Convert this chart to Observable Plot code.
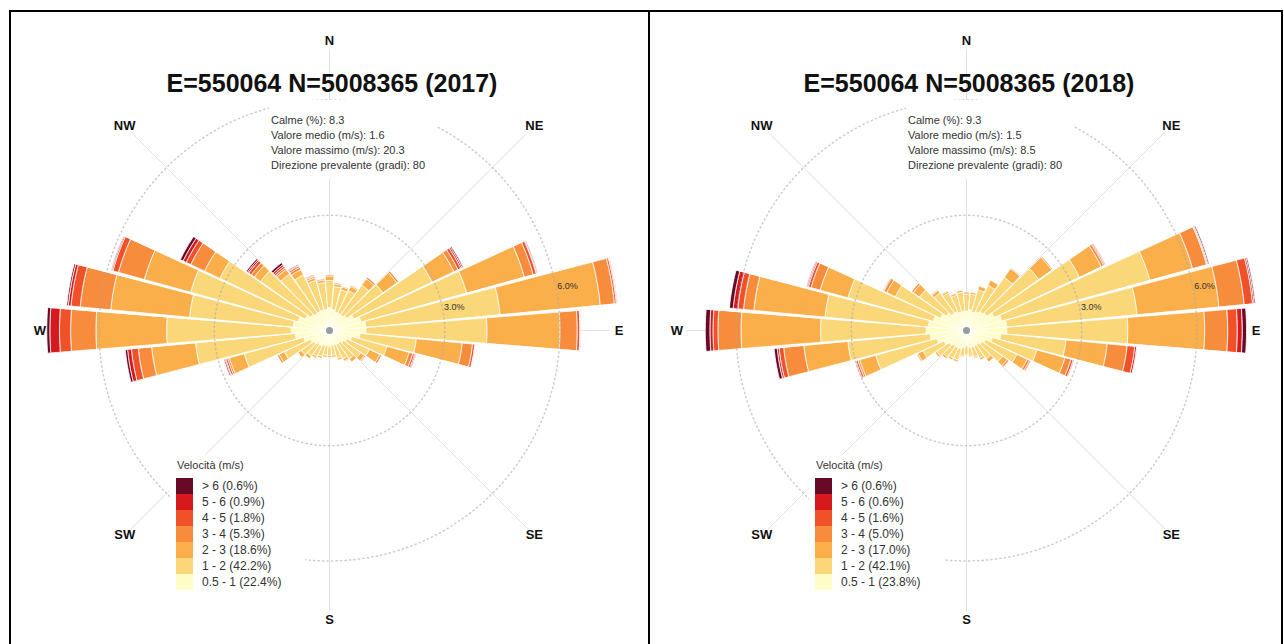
<!DOCTYPE html>
<html>
<head>
<meta charset="utf-8">
<script src="https://cdn.jsdelivr.net/npm/d3@7"></script>
<script src="https://cdn.jsdelivr.net/npm/@observablehq/plot@0.6"></script>
<style>
html,body{margin:0;padding:0;background:#fff;overflow:hidden;width:1284px;height:644px;}
body{font-family:"Liberation Sans",Arial,Helvetica,sans-serif;color:#222;position:relative;}
.bar{position:absolute;background:#000;z-index:5;}
.rose{position:absolute;}
.title{position:absolute;top:71px;width:440px;text-align:center;font-size:25px;line-height:25px;font-weight:bold;color:#111;white-space:nowrap;}
.stats{position:absolute;top:100px;padding:13px 12px 6px 2px;font-size:11px;line-height:15px;color:#333;white-space:pre;background:#fff;}
.legend{position:absolute;top:455px;width:135px;height:142px;color:#333;background:#fff;}
.legend .lt{position:absolute;left:7px;top:3px;font-size:11px;line-height:14px;white-space:nowrap;}
.legend .sw{position:absolute;left:6px;width:17px;height:16px;}
.legend .lb{position:absolute;left:32px;font-size:12px;line-height:16px;white-space:nowrap;}
</style>
</head>
<body>
<div class="bar" style="left:9px;top:10px;width:1274px;height:2px"></div>
<div class="bar" style="left:9px;top:10px;width:2px;height:640px"></div>
<div class="bar" style="left:648px;top:10px;width:2px;height:640px"></div>
<div class="bar" style="left:1281px;top:10px;width:2px;height:640px"></div>
<div id="root"></div>
<script>
// ---------------- data ----------------
const directions = [10,20,30,40,50,60,70,80,90,100,110,120,130,140,150,160,170,180,190,200,210,220,230,240,250,260,270,280,290,300,310,320,330,340,350,360];
const speedBins = ["0.5 - 1","1 - 2","2 - 3","3 - 4","4 - 5","5 - 6","> 6"];
const binColors = ["#FFFDC8","#FAD778","#FAAF4B","#F78C3C","#F05128","#D7191E","#660A26"];

// 2017 frequencies (%) per direction, one array per speed bin
const y2017_05_1 = [0.55,0.50,0.50,0.50,0.55,0.70,0.85,0.95,0.95,0.80,0.60,0.50,0.45,0.40,0.40,0.40,0.40,0.40,0.40,0.40,0.45,0.45,0.50,0.55,0.70,0.90,1.00,0.95,0.85,0.70,0.60,0.55,0.55,0.55,0.55,0.60];
const y2017_1_2  = [0.60,0.60,0.65,0.95,1.15,2.25,2.85,3.51,3.15,1.47,0.95,0.65,0.55,0.50,0.42,0.35,0.25,0.25,0.25,0.30,0.30,0.37,0.40,0.75,1.60,2.60,3.24,2.71,2.90,2.46,1.60,1.25,1.05,0.80,0.70,0.70];
const y2017_2_3  = [0.07,0.08,0.12,0.20,0.45,0.63,1.56,2.62,1.90,1.20,0.60,0.30,0.12,0.10,0.06,0.05,0.05,0.05,0.05,0.05,0.05,0.08,0.10,0.15,0.40,1.15,1.84,2.06,1.25,0.44,0.20,0.15,0.15,0.07,0.07,0.12];
const y2017_3_4  = [0.03,0.02,0.03,0.05,0.05,0.12,0.24,0.37,0.45,0.27,0.10,0.05,0.03,0,0.02,0,0,0,0,0,0,0,0,0.05,0.05,0.35,0.66,0.80,0.70,0.40,0.10,0.05,0.07,0.04,0.03,0.03];
const y2017_4_5  = [0,0,0,0,0,0.08,0.08,0.05,0.07,0.06,0.05,0,0,0,0,0,0,0,0,0,0,0,0,0,0.05,0.18,0.29,0.24,0.15,0.13,0.08,0.05,0.04,0.02,0,0];
const y2017_5_6  = [0,0,0,0,0,0.04,0.02,0.02,0.01,0.01,0.03,0,0,0,0,0,0,0,0,0,0,0,0,0,0.02,0.10,0.25,0.07,0.03,0.09,0.04,0.05,0.02,0.02,0,0];
const y2017_gt6  = [0,0,0,0,0,0.03,0.02,0.01,0.01,0,0.01,0,0,0,0,0,0,0,0,0,0,0,0,0,0.03,0.06,0.08,0.04,0.02,0.08,0.04,0.06,0.02,0,0,0];

// 2018
const y2018_05_1 = [0.55,0.50,0.55,0.60,0.65,0.80,0.95,1.05,1.05,0.90,0.70,0.55,0.50,0.45,0.45,0.45,0.45,0.40,0.45,0.50,0.50,0.50,0.55,0.65,0.80,0.95,1.05,1.00,0.90,0.75,0.65,0.55,0.55,0.50,0.50,0.50];
const y2018_1_2  = [0.40,0.60,0.75,1.10,1.65,2.45,4.00,3.41,3.15,1.70,1.20,0.90,0.65,0.45,0.35,0.27,0.23,0.23,0.23,0.30,0.30,0.35,0.40,0.60,1.65,2.15,2.75,2.70,2.30,1.30,0.85,0.65,0.53,0.45,0.50,0.45];
const y2018_2_3  = [0.05,0.10,0.15,0.28,0.42,0.63,1.15,2.14,2.00,1.08,0.76,0.30,0.15,0.10,0.05,0.03,0.02,0.02,0.02,0.05,0.05,0.05,0.05,0.15,0.43,1.15,2.07,1.86,0.75,0.25,0.20,0.08,0.05,0.05,0.05,0.05];
const y2018_3_4  = [0,0,0,0.02,0.03,0.07,0.38,0.66,0.60,0.52,0.16,0.07,0.05,0,0,0,0,0,0,0,0,0,0,0.03,0.05,0.53,0.60,0.27,0.25,0.08,0.05,0.02,0.02,0,0,0];
const y2018_4_5  = [0,0,0,0,0,0.03,0.02,0.22,0.25,0.20,0.06,0.03,0,0,0,0,0,0,0,0,0,0,0,0,0.05,0.12,0.13,0.15,0.07,0.02,0,0,0,0,0,0];
const y2018_5_6  = [0,0,0,0,0,0.02,0.02,0.04,0.13,0.05,0.02,0,0,0,0,0,0,0,0,0,0,0,0,0,0.02,0.05,0.08,0.12,0.03,0,0,0,0,0,0,0];
const y2018_gt6  = [0,0,0,0,0,0,0.03,0.03,0.11,0.01,0,0,0,0,0,0,0,0,0,0,0,0,0,0,0,0.08,0.12,0.10,0.02,0,0,0,0,0,0,0];

const legendPct2017 = [22.4,42.2,18.6,5.3,1.8,0.9,0.6];
const legendPct2018 = [23.8,42.1,17.0,5.0,1.6,0.6,0.6];

const titles = ["E=550064 N=5008365 (2017)","E=550064 N=5008365 (2018)"];
const statLabels = ["Calme (%)","Valore medio (m/s)","Valore massimo (m/s)","Direzione prevalente (gradi)"];
const stats2017 = ["8.3","1.6","20.3","80"];
const stats2018 = ["9.3","1.5","8.5","80"];

const compassNames = ["N","NE","E","SE","S","SW","W","NW"];
const compassDirs  = [0,45,90,135,180,225,270,315];
const ringValues = [3,6];
const legendTitle = "Velocità (m/s)";

// ---------------- drawing ----------------
const HALF = 4.6;          // half angular width of a sector bar (deg)
const RADIUS = 8.07;       // domain radius in % (fits the 620px square)
const LABEL_R = 7.54;
const SPOKE_R = 7.3;
const lonOf = a => 180 - a;

function wedge(a, r0, r1) {
  const n = 12;
  const outer = [], inner = [];
  for (let j = 0; j <= n; j++) {
    const t = a - HALF + (2 * HALF * j) / n;
    outer.push([lonOf(t), 90 - r1]);
  }
  for (let j = n; j >= 0; j--) {
    const t = a - HALF + (2 * HALF * j) / n;
    inner.push([lonOf(t), 90 - Math.max(r0, 0.01)]);
  }
  return [...inner, ...outer, inner[0]];
}

function buildFeatures(binArrays) {
  const feats = [];
  directions.forEach((d, i) => {
    let r0 = 0;
    binArrays.forEach((arr, k) => {
      const v = arr[i];
      if (!(v > 0)) return;
      const r1 = r0 + v;
      feats.push({type: "Feature", properties: {bin: speedBins[k], dir: d},
        geometry: {type: "Polygon", coordinates: [wedge(d, r0, r1)]}});
      r0 = r1;
    });
  });
  return feats;
}

const panels = [
  {cx: 329, cy: 330, title: titles[0], stats: stats2017, pct: legendPct2017, legendDx: -159,
   bins: [y2017_05_1, y2017_1_2, y2017_2_3, y2017_3_4, y2017_4_5, y2017_5_6, y2017_gt6]},
  {cx: 966, cy: 330, title: titles[1], stats: stats2018, pct: legendPct2018, legendDx: -157,
   bins: [y2018_05_1, y2018_1_2, y2018_2_3, y2018_3_4, y2018_4_5, y2018_5_6, y2018_gt6]}
];

const root = document.getElementById("root");
const compass = compassNames.map((name, i) => ({name, dir: compassDirs[i]}));

panels.forEach(p => {
  const feats = buildFeatures(p.bins);
  const rings = ringValues.map(r => d3.geoCircle().center([0, 90]).radius(r).precision(2)());
  const chart = Plot.plot({
    width: 620, height: 620, margin: 0,
    style: {background: "transparent", fontFamily: "Liberation Sans, Arial, sans-serif", overflow: "visible"},
    projection: {type: "azimuthal-equidistant", rotate: [0, -90],
      domain: d3.geoCircle().center([0, 90]).radius(RADIUS)()},
    color: {domain: speedBins, range: binColors},
    marks: [
      Plot.link(compassDirs, {x1: d => lonOf(d), y1: () => 90, x2: d => lonOf(d), y2: () => 90 - SPOKE_R,
        stroke: "#e2e2e2", strokeWidth: 1}),
      Plot.geo(feats, {fill: d => d.properties.bin, stroke: "white", strokeWidth: 0.8}),
      Plot.geo(rings, {fill: "none", stroke: "#aaa", strokeWidth: 1.5, strokeOpacity: 0.6, strokeDasharray: "1.2,3.3"}),
      Plot.text(ringValues, {x: () => lonOf(79.5), y: d => 90 - d - 0.3, text: d => d.toFixed(1) + "%",
        fontSize: 9, fill: "#333"}),
      Plot.dot([0], {x: () => 0, y: () => 90, r: 3.5, fill: "#9a9aa6", stroke: "none"}),
      Plot.text(compass, {x: d => lonOf(d.dir), y: () => 90 - LABEL_R, text: "name",
        fontWeight: "bold", fontSize: 13, fill: "#111"})
    ]
  });
  chart.classList.add("rose");
  chart.style.left = (p.cx - 310) + "px";
  chart.style.top = (p.cy - 310) + "px";
  chart.style.position = "absolute";
  root.appendChild(chart);

  const t = document.createElement("div");
  t.className = "title";
  t.style.left = (p.cx + 3 - 220) + "px";
  t.textContent = p.title;
  root.appendChild(t);

  const s = document.createElement("div");
  s.className = "stats";
  s.style.left = (p.cx - 60) + "px";
  s.textContent = statLabels.map((l, i) => l + ": " + p.stats[i]).join("\n");
  root.appendChild(s);

  const lg = document.createElement("div");
  lg.className = "legend";
  lg.style.left = (p.cx + p.legendDx) + "px";
  const lt = document.createElement("div");
  lt.className = "lt";
  lt.textContent = legendTitle;
  lg.appendChild(lt);
  const order = [6,5,4,3,2,1,0];
  order.forEach((k, j) => {
    const sw = document.createElement("div");
    sw.className = "sw";
    sw.style.top = (23 + 16 * j) + "px";
    sw.style.background = binColors[k];
    lg.appendChild(sw);
    const lb = document.createElement("div");
    lb.className = "lb";
    lb.style.top = (23 + 16 * j) + "px";
    lb.textContent = speedBins[k] + " (" + p.pct[k].toFixed(1) + "%)";
    lg.appendChild(lb);
  });
  root.appendChild(lg);
});
</script>
</body>
</html>
